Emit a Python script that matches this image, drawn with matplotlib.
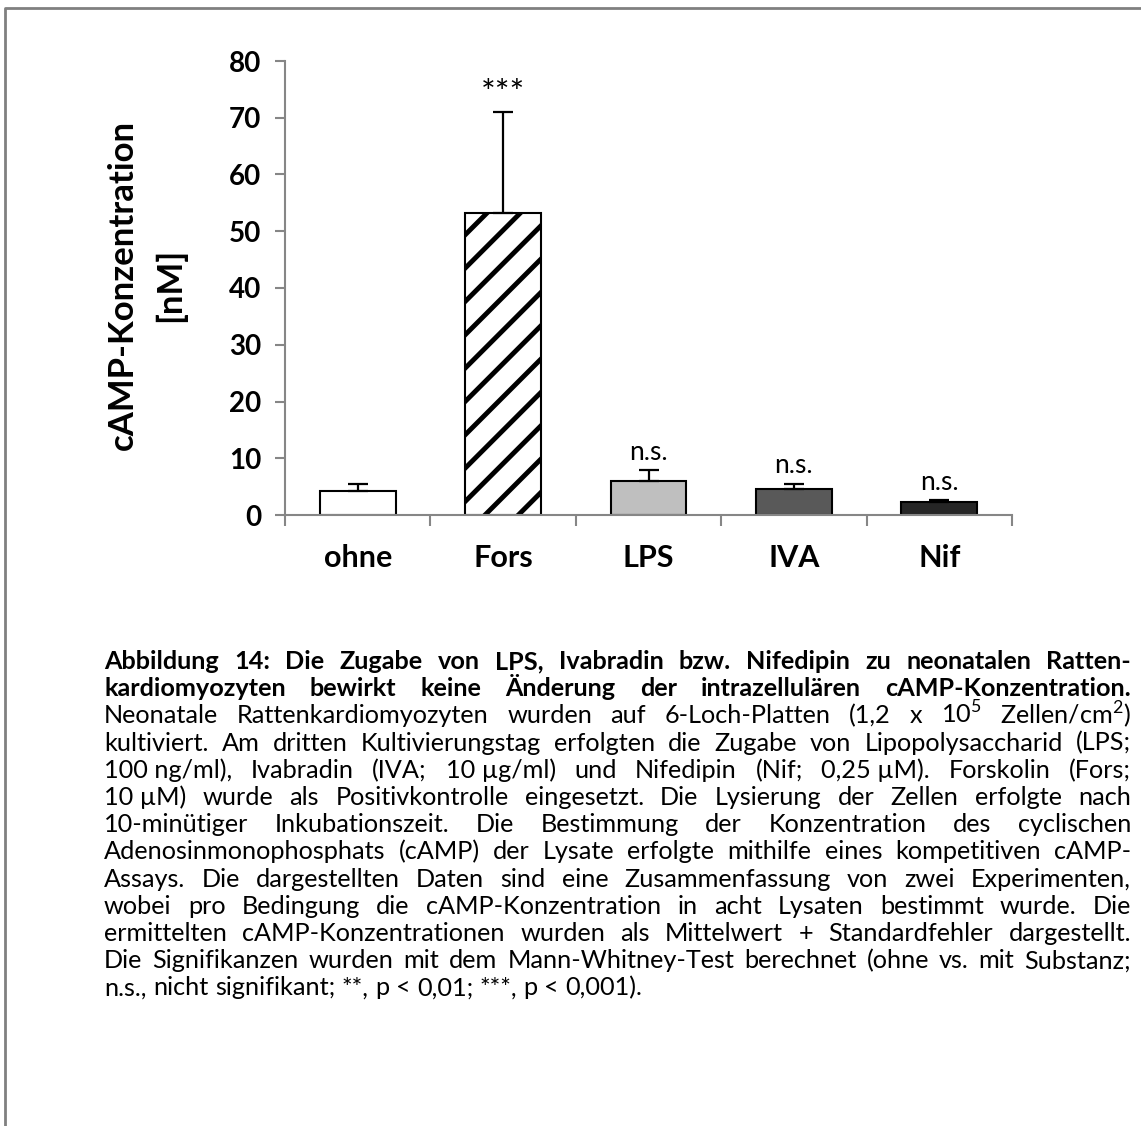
import matplotlib
matplotlib.use("Agg")
import matplotlib.pyplot as plt
from matplotlib.lines import Line2D

plt.rcParams["font.family"] = ["Lato", "DejaVu Sans"]
plt.rcParams["mathtext.fontset"] = "custom"
plt.rcParams["mathtext.rm"] = "Lato"
plt.rcParams["hatch.linewidth"] = 3.5

# data
categories = ["ohne", "Fors", "LPS", "IVA", "Nif"]
means = [4.2, 53.3, 6.0, 4.5, 2.3]
sems = [1.3, 17.7, 1.9, 1.0, 0.3]
signif = ["", "***", "n.s.", "n.s.", "n.s."]
bar_colors = ["#ffffff", "#ffffff", "#bfbfbf", "#595959", "#262626"]
bar_hatches = [None, "/", None, None, None]
yticks = [0, 10, 20, 30, 40, 50, 60, 70, 80]

caption_lines = [
    "Abbildung 14: Die Zugabe von LPS, Ivabradin bzw. Nifedipin zu neonatalen Ratten-",
    "kardiomyozyten bewirkt keine Änderung der intrazellulären cAMP-Konzentration.",
    "Neonatale Rattenkardiomyozyten wurden auf 6-Loch-Platten (1,2 x 10$^5$ Zellen/cm$^2$)",
    "kultiviert. Am dritten Kultivierungstag erfolgten die Zugabe von Lipopolysaccharid (LPS;",
    "100\u00a0ng/ml), Ivabradin (IVA; 10\u00a0µg/ml) und Nifedipin (Nif; 0,25\u00a0µM). Forskolin (Fors;",
    "10\u00a0µM) wurde als Positivkontrolle eingesetzt. Die Lysierung der Zellen erfolgte nach",
    "10-minütiger Inkubationszeit. Die Bestimmung der Konzentration des cyclischen",
    "Adenosinmonophosphats (cAMP) der Lysate erfolgte mithilfe eines kompetitiven cAMP-",
    "Assays. Die dargestellten Daten sind eine Zusammenfassung von zwei Experimenten,",
    "wobei pro Bedingung die cAMP-Konzentration in acht Lysaten bestimmt wurde. Die",
    "ermittelten cAMP-Konzentrationen wurden als Mittelwert + Standardfehler dargestellt.",
    "Die Signifikanzen wurden mit dem Mann-Whitney-Test berechnet (ohne vs. mit Substanz;",
    "n.s., nicht signifikant; **, p < 0,01; ***, p < 0,001).",
]
bold_lines = 2

W, H = 1141, 1126
fig = plt.figure(figsize=(W / 100, H / 100), dpi=100, facecolor="white")

AX_GRAY = "#868686"
ax = fig.add_axes([285 / W, 1 - 515 / H, (1012 - 285) / W, (515 - 61) / H])
x = list(range(len(categories)))
for i in x:
    ax.bar(i, means[i], width=0.52, color=bar_colors[i], edgecolor="black",
           linewidth=1.5, hatch=bar_hatches[i], zorder=2)
ax.errorbar(x, means, yerr=[[0] * len(sems), sems], fmt="none", ecolor="black",
            elinewidth=1.6, capsize=7, capthick=1.6, zorder=3)
for i, s in enumerate(signif):
    if s == "***":
        ax.annotate(s, (i, means[i] + sems[i]), xytext=(0, 13),
                    textcoords="offset points", ha="center", va="center",
                    fontsize=25)
    elif s:
        ax.annotate(s, (i, means[i] + sems[i]), xytext=(0, 13),
                    textcoords="offset points", ha="center", va="center",
                    fontsize=19)

ax.set_xlim(-0.5, len(categories) - 0.5)
ax.set_ylim(0, 80)
ax.set_yticks(yticks)
ax.set_yticklabels([str(t) for t in yticks], fontsize=20, fontweight="bold")
ax.set_xticks(x)
ax.set_xticklabels(categories, fontsize=22, fontweight="bold")
ax.set_xticks([i - 0.5 for i in range(len(categories) + 1)], minor=True)
ax.tick_params(axis="x", which="major", length=0, pad=21)
ax.tick_params(axis="x", which="minor", length=8, width=1.5, color=AX_GRAY,
               direction="out")
ax.tick_params(axis="y", length=7, width=1.5, color=AX_GRAY, pad=10)
for side in ["top", "right"]:
    ax.spines[side].set_visible(False)
for side in ["left", "bottom"]:
    ax.spines[side].set_color(AX_GRAY)
    ax.spines[side].set_linewidth(1.5)

fig.text(123 / W, 1 - 285 / H, "cAMP-Konzentration", rotation=90,
         fontsize=25, fontweight="bold", ha="center", va="center")
fig.text(170 / W, 1 - 285 / H, "[nM]", rotation=90,
         fontsize=25, fontweight="bold", ha="center", va="center")

# frame (only top and left visible)
fig.add_artist(Line2D([5 / W, 5 / W, 1.0], [0.0, 1 - 8 / H, 1 - 8 / H],
                      transform=fig.transFigure, color="#808080", lw=2))

# justified caption
renderer = fig.canvas.get_renderer()
left, right = 104, 1131
base_y = 669
step = 27.2


def word_width(word, weight, size):
    t = fig.text(0, 0, word, fontsize=size, fontweight=weight)
    w = t.get_window_extent(renderer).width
    t.remove()
    return w


# pick a size so the longest line just fits at its natural spacing
probe = 10
natural = []
for k, line in enumerate(caption_lines[:-1]):
    weight = "bold" if k < bold_lines else "normal"
    natural.append(word_width(line.replace(" ", "\u00a0"), weight, probe))
cap_size = 0.97 * probe * (right - left) / max(natural)

for k, line in enumerate(caption_lines):
    weight = "bold" if k < bold_lines else "normal"
    y = 1 - (base_y + k * step) / H
    words = line.split(" ")
    widths = [word_width(w, weight, cap_size) for w in words]
    if k == len(caption_lines) - 1:
        gap = word_width("a\u00a0a", weight, cap_size) - 2 * word_width("a", weight, cap_size)
    else:
        gap = (right - left - sum(widths)) / (len(words) - 1)
    xpos = left
    for w, wd in zip(words, widths):
        fig.text(xpos / W, y, w, fontsize=cap_size, fontweight=weight,
                 ha="left", va="baseline")
        xpos += wd + gap

fig.savefig("out.png", dpi=100, facecolor="white")
